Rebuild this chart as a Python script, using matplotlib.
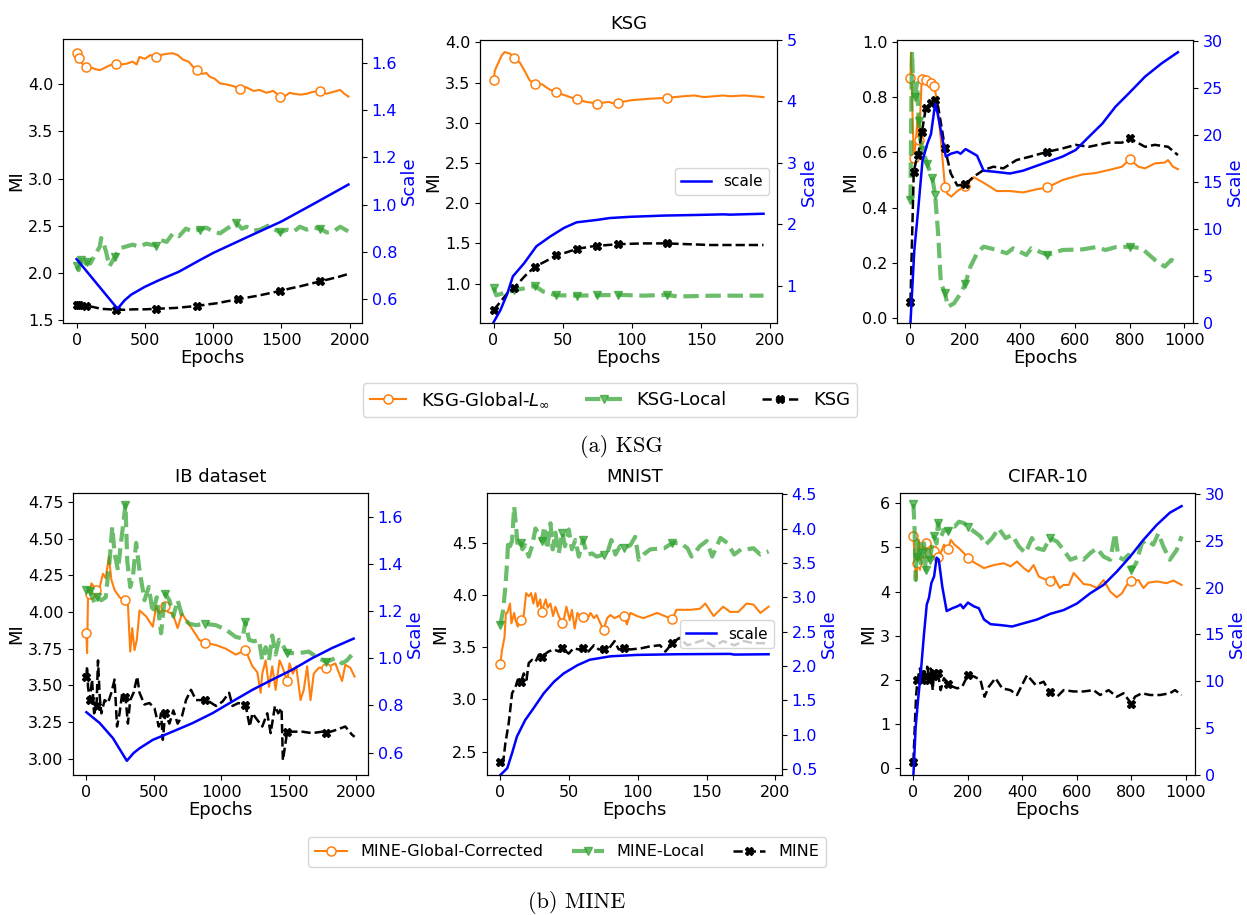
import matplotlib
matplotlib.use("Agg")
import matplotlib.pyplot as plt
from matplotlib.lines import Line2D
from matplotlib.ticker import MultipleLocator

# ---------------- KSG, IB dataset ----------------
ksg_ib_glob_ep = [0, 10, 20, 40, 70, 100, 140, 170, 200, 240, 290, 330, 370, 410, 440, 460, 500, 540, 580, 610,
                  650, 700, 740, 780, 820, 850, 880, 920, 950, 975, 1010, 1050, 1090, 1150, 1195, 1240, 1295,
                  1340, 1390, 1440, 1490, 1530, 1560, 1590, 1640, 1685, 1730, 1785, 1830, 1880, 1930, 1960, 1990]
ksg_ib_glob = [4.33, 4.30, 4.28, 4.22, 4.18, 4.18, 4.16, 4.15, 4.17, 4.20, 4.22, 4.21, 4.22, 4.24, 4.21, 4.29,
               4.27, 4.31, 4.29, 4.31, 4.32, 4.33, 4.31, 4.26, 4.24, 4.19, 4.15, 4.11, 4.12, 4.08, 4.06, 4.01,
               4.00, 3.98, 3.95, 3.97, 3.93, 3.94, 3.91, 3.93, 3.87, 3.88, 3.91, 3.90, 3.89, 3.90, 3.92, 3.93,
               3.90, 3.92, 3.94, 3.90, 3.87]
ksg_ib_local_ep = [0, 15, 30, 50, 75, 100, 130, 170, 180, 200, 215, 240, 280, 315, 360, 410, 460, 510, 580, 610,
                   660, 705, 750, 800, 850, 900, 950, 1000, 1050, 1100, 1170, 1210, 1245, 1300, 1345, 1400, 1440,
                   1490, 1540, 1590, 1635, 1685, 1730, 1785, 1830, 1880, 1930, 1990]
ksg_ib_local = [2.07, 2.03, 2.14, 2.08, 2.12, 2.10, 2.18, 2.28, 2.37, 2.30, 2.23, 2.07, 2.17, 2.26, 2.28, 2.30,
                2.28, 2.31, 2.29, 2.35, 2.33, 2.42, 2.39, 2.47, 2.44, 2.46, 2.48, 2.44, 2.42, 2.47, 2.53, 2.47,
                2.49, 2.45, 2.46, 2.50, 2.47, 2.43, 2.46, 2.44, 2.49, 2.46, 2.48, 2.47, 2.43, 2.44, 2.49, 2.44]
ksg_ib_base_ep = [0, 20, 40, 70, 120, 180, 240, 290, 350, 420, 500, 580, 650, 730, 800, 880, 950, 1030, 1100,
                  1180, 1250, 1330, 1410, 1490, 1560, 1640, 1710, 1780, 1850, 1920, 1990]
ksg_ib_base = [1.66, 1.66, 1.66, 1.655, 1.64, 1.62, 1.615, 1.61, 1.61, 1.615, 1.615, 1.62, 1.625, 1.63, 1.64,
               1.65, 1.665, 1.68, 1.70, 1.72, 1.74, 1.76, 1.785, 1.81, 1.835, 1.86, 1.885, 1.91, 1.935, 1.96, 1.99]
ksg_ib_scale_ep = [0, 100, 200, 300, 350, 400, 500, 600, 750, 900, 1000, 1250, 1500, 1750, 1990]
ksg_ib_scale = [0.77, 0.70, 0.63, 0.56, 0.595, 0.62, 0.653, 0.68, 0.717, 0.765, 0.796, 0.863, 0.929, 1.008, 1.085]

# ---------------- KSG, MNIST ----------------
ksg_mnist_glob_ep = [0, 1, 3, 6, 8, 12, 15, 19, 23, 26, 30, 35, 40, 45, 52, 60, 67, 75, 83, 87, 90, 99, 113, 125,
                     137, 145, 152, 166, 171, 181, 195]
ksg_mnist_glob = [3.53, 3.65, 3.73, 3.84, 3.88, 3.86, 3.80, 3.75, 3.63, 3.53, 3.48, 3.48, 3.42, 3.38, 3.34, 3.29,
                  3.26, 3.24, 3.26, 3.24, 3.25, 3.28, 3.30, 3.31, 3.33, 3.34, 3.32, 3.34, 3.33, 3.34, 3.32]
ksg_mnist_local_ep = [0, 2, 7, 15, 22, 30, 36, 45, 60, 75, 90, 108, 125, 133, 160, 195]
ksg_mnist_local = [0.95, 0.855, 0.88, 0.92, 0.94, 0.97, 0.90, 0.855, 0.85, 0.855, 0.86, 0.85, 0.86, 0.84, 0.85, 0.85]
ksg_mnist_base_ep = [0, 2, 10, 15, 23, 30, 39, 45, 53, 60, 70, 75, 90, 108, 125, 157, 195]
ksg_mnist_base = [0.67, 0.71, 0.88, 0.95, 1.10, 1.21, 1.29, 1.35, 1.39, 1.43, 1.46, 1.47, 1.49, 1.50, 1.50, 1.48, 1.48]
ksg_mnist_scale_ep = [0, 5, 10, 14, 22, 31, 41, 51, 60, 75, 84, 99, 123, 147, 166, 171, 195]
ksg_mnist_scale = [0.40, 0.60, 0.87, 1.15, 1.36, 1.64, 1.80, 1.94, 2.03, 2.07, 2.10, 2.12, 2.14, 2.15, 2.16, 2.155, 2.17]

# ---------------- KSG, CIFAR-10 ----------------
ksg_cifar_glob_ep = [0, 2, 6, 12, 20, 26, 32, 41, 58, 75, 87, 96, 111, 126, 135, 149, 171, 200, 231, 267, 315, 363,
                     411, 459, 500, 555, 627, 675, 724, 772, 800, 832, 856, 892, 928, 940, 958, 976]
ksg_cifar_glob = [0.867, 0.96, 0.79, 0.58, 0.64, 0.73, 0.645, 0.865, 0.86, 0.85, 0.84, 0.79, 0.645, 0.476, 0.45,
                  0.44, 0.46, 0.478, 0.51, 0.49, 0.46, 0.46, 0.455, 0.466, 0.473, 0.50, 0.52, 0.525, 0.536, 0.548,
                  0.575, 0.548, 0.542, 0.56, 0.563, 0.572, 0.548, 0.539]
ksg_cifar_local_ep = [0, 4, 6, 11, 15, 24, 30, 36, 44, 62, 80, 90, 101, 111, 126, 137, 159, 183, 200, 219, 243, 267,
                      315, 351, 375, 423, 441, 500, 555, 627, 675, 712, 748, 800, 844, 892, 928, 952, 982]
ksg_cifar_local = [0.428, 0.85, 0.964, 0.79, 0.80, 0.85, 0.712, 0.645, 0.61, 0.556, 0.506, 0.446, 0.307, 0.128, 0.09,
                   0.042, 0.054, 0.09, 0.125, 0.187, 0.235, 0.259, 0.247, 0.235, 0.253, 0.229, 0.253, 0.229, 0.247,
                   0.249, 0.257, 0.247, 0.257, 0.259, 0.253, 0.211, 0.187, 0.211, 0.199]
ksg_cifar_base_ep = [0, 8, 12, 24, 28, 42, 56, 75, 88, 101, 117, 126, 147, 171, 200, 231, 267, 303, 339, 387, 435,
                     500, 555, 603, 651, 724, 772, 800, 832, 856, 892, 940, 976]
ksg_cifar_base = [0.06, 0.37, 0.53, 0.584, 0.59, 0.675, 0.759, 0.777, 0.789, 0.765, 0.67, 0.614, 0.524, 0.48, 0.485,
                  0.512, 0.536, 0.548, 0.542, 0.572, 0.584, 0.602, 0.614, 0.627, 0.62, 0.635, 0.635, 0.65, 0.633,
                  0.62, 0.627, 0.62, 0.59]
ksg_cifar_scale_ep = [0, 14, 29, 44, 62, 75, 90, 99, 129, 147, 171, 183, 201, 219, 243, 267, 303, 363, 411, 483, 555,
                      603, 651, 700, 748, 796, 856, 916, 976]
ksg_cifar_scale = [0.0, 7.7, 12.3, 17.3, 19.1, 20.1, 23.3, 22.3, 17.7, 18.0, 18.2, 18.0, 18.5, 18.2, 17.8, 16.2, 16.1,
                   15.9, 16.2, 16.95, 17.7, 18.4, 19.8, 21.2, 23.0, 24.4, 26.2, 27.6, 28.8]

# ---------------- MINE, IB dataset ----------------
mine_ib_glob_ep = [0, 5, 12, 25, 37, 74, 99, 123, 143, 167, 185, 209, 246, 290, 308, 325, 340, 357, 374, 394, 443,
                   493, 517, 542, 585, 603, 640, 677, 709, 751, 788, 837, 880, 961, 1034, 1108, 1158, 1180, 1232,
                   1268, 1293, 1305, 1330, 1355, 1379, 1404, 1433, 1453, 1490, 1507, 1532, 1557, 1589, 1613, 1638,
                   1663, 1687, 1724, 1780, 1847, 1897, 1921, 1958, 1990]
mine_ib_glob = [3.855, 3.72, 4.115, 4.12, 4.195, 4.15, 4.17, 4.26, 4.23, 4.375, 4.22, 4.15, 4.10, 4.08, 4.05, 3.73,
                3.89, 3.74, 3.81, 4.01, 3.97, 3.90, 4.04, 3.99, 4.04, 4.00, 3.99, 3.89, 3.99, 3.93, 3.88, 3.81, 3.79,
                3.775, 3.75, 3.71, 3.73, 3.74, 3.63, 3.59, 3.45, 3.58, 3.67, 3.49, 3.63, 3.47, 3.67, 3.63, 3.53, 3.65,
                3.58, 3.63, 3.40, 3.47, 3.63, 3.40, 3.58, 3.62, 3.62, 3.65, 3.53, 3.64, 3.62, 3.56]
mine_ib_local_ep = [0, 25, 62, 75, 111, 143, 172, 192, 209, 234, 259, 290, 303, 325, 345, 369, 394, 431, 463, 493,
                    522, 554, 585, 616, 645, 677, 714, 764, 813, 880, 961, 1034, 1108, 1158, 1180, 1207, 1244, 1281,
                    1305, 1330, 1355, 1379, 1404, 1429, 1453, 1490, 1515, 1576, 1650, 1724, 1780, 1847, 1897, 1933,
                    1990]
mine_ib_local = [4.15, 4.14, 4.06, 4.10, 4.08, 4.10, 4.35, 4.58, 4.40, 4.285, 4.49, 4.73, 4.35, 4.17, 4.24, 4.47,
                 4.285, 4.08, 4.17, 3.99, 4.10, 3.855, 4.125, 4.08, 3.97, 4.08, 3.96, 3.92, 3.91, 3.92, 3.91, 3.88,
                 3.83, 3.82, 3.93, 3.81, 3.80, 3.81, 3.67, 3.76, 3.67, 3.84, 3.71, 3.81, 3.78, 3.72, 3.72, 3.72, 3.73,
                 3.685, 3.66, 3.685, 3.65, 3.67, 3.73]
mine_ib_base_ep = [0, 5, 12, 25, 42, 57, 75, 86, 99, 111, 135, 160, 185, 209, 227, 246, 266, 290, 308, 325, 350, 377,
                   394, 431, 468, 505, 537, 554, 567, 585, 616, 645, 677, 709, 739, 776, 813, 880, 911, 961, 1010,
                   1059, 1084, 1128, 1180, 1212, 1232, 1268, 1305, 1342, 1367, 1399, 1423, 1448, 1458, 1490, 1527,
                   1601, 1675, 1749, 1780, 1847, 1921, 1970, 1990]
mine_ib_base = [3.56, 3.63, 3.49, 3.40, 3.54, 3.31, 3.36, 3.67, 3.42, 3.31, 3.40, 3.38, 3.45, 3.54, 3.22, 3.31, 3.45,
                3.42, 3.24, 3.40, 3.45, 3.56, 3.45, 3.37, 3.38, 3.345, 3.22, 3.31, 3.13, 3.31, 3.24, 3.33, 3.24, 3.29,
                3.40, 3.47, 3.40, 3.40, 3.39, 3.36, 3.39, 3.45, 3.36, 3.38, 3.37, 3.22, 3.31, 3.265, 3.22, 3.31,
                3.175, 3.36, 3.31, 3.345, 2.99, 3.185, 3.185, 3.185, 3.175, 3.185, 3.175, 3.195, 3.22, 3.165, 3.15]
mine_ib_scale_ep = [0, 99, 197, 300, 350, 394, 493, 640, 788, 936, 1084, 1232, 1379, 1527, 1675, 1823, 1983]
mine_ib_scale = [0.771, 0.725, 0.661, 0.565, 0.598, 0.618, 0.654, 0.689, 0.725, 0.767, 0.817, 0.866, 0.909, 0.951,
                 1.0, 1.043, 1.083]

# ---------------- MINE, MNIST ----------------
mine_mnist_glob_ep = [0, 1, 3, 4, 5, 7, 8, 10, 11, 12.6, 15, 17, 18.7, 20.6, 22.3, 24, 25.5, 27, 29, 30, 33, 34.4,
                      36.4, 38.3, 40, 42.4, 45, 46, 48, 50.4, 52, 54, 56, 58, 60, 63, 65.5, 68, 70, 72.7, 75, 77.6,
                      80, 83, 86, 90, 92, 94.5, 99.4, 104, 114, 125, 128, 138, 145, 149, 155, 162, 167, 173, 179,
                      184, 189, 195]
mine_mnist_glob = [3.34, 3.46, 3.60, 3.83, 3.83, 3.92, 3.73, 3.83, 3.76, 3.70, 3.76, 3.81, 4.02, 3.99, 4.02, 3.92,
                   4.02, 3.89, 3.96, 3.84, 3.96, 3.88, 3.92, 3.80, 3.89, 3.80, 3.73, 3.76, 3.89, 3.76, 3.86, 3.68,
                   3.83, 3.80, 3.79, 3.76, 3.83, 3.78, 3.81, 3.73, 3.67, 3.78, 3.81, 3.78, 3.80, 3.80, 3.72, 3.83,
                   3.80, 3.78, 3.83, 3.77, 3.86, 3.86, 3.87, 3.92, 3.80, 3.89, 3.84, 3.84, 3.92, 3.91, 3.83, 3.89]
mine_mnist_local_ep = [0, 2, 3.6, 5, 5.6, 7, 8.5, 10, 11.4, 12.6, 15, 16, 18, 20.6, 23, 25.5, 28, 30, 32, 34, 36.4,
                       38, 40, 42.4, 45, 47, 49.7, 52, 54.5, 57, 60, 63, 66.7, 70, 75, 77.6, 80.7, 83.6, 87, 90, 94.5,
                       98, 100.6, 104, 109, 119, 125, 131, 136, 139, 145, 150, 154, 160, 165, 170, 175, 179, 184, 189,
                       195]
mine_mnist_local = [3.716, 3.86, 4.08, 4.34, 4.53, 4.47, 4.52, 4.85, 4.66, 4.45, 4.50, 4.44, 4.48, 4.37, 4.47, 4.64,
                    4.58, 4.52, 4.66, 4.44, 4.69, 4.44, 4.60, 4.40, 4.60, 4.47, 4.63, 4.44, 4.53, 4.37, 4.53, 4.39,
                    4.40, 4.37, 4.39, 4.40, 4.53, 4.39, 4.47, 4.45, 4.48, 4.56, 4.34, 4.39, 4.44, 4.45, 4.50, 4.50,
                    4.45, 4.37, 4.47, 4.52, 4.37, 4.55, 4.50, 4.39, 4.44, 4.44, 4.45, 4.39, 4.42]
mine_mnist_base_ep = [0, 2, 3.6, 6, 8.5, 11, 12.6, 15, 17, 19, 20.6, 23, 25.5, 28, 30, 35, 39, 42.4, 45, 49.7, 53,
                      57, 60, 64, 68, 71.5, 75, 79, 83, 86, 90, 94.5, 102, 109, 116, 120, 125, 130, 136, 143, 148,
                      155, 162, 170, 177, 184, 195]
mine_mnist_base = [2.40, 2.40, 2.58, 2.77, 3.06, 3.12, 3.19, 3.17, 3.25, 3.19, 3.35, 3.38, 3.36, 3.43, 3.41, 3.46,
                   3.48, 3.46, 3.49, 3.44, 3.49, 3.48, 3.49, 3.46, 3.52, 3.48, 3.48, 3.49, 3.56, 3.48, 3.49, 3.48,
                   3.49, 3.51, 3.52, 3.46, 3.54, 3.59, 3.52, 3.55, 3.57, 3.51, 3.56, 3.52, 3.56, 3.54, 3.54]
mine_mnist_scale_ep = [0, 5, 8.5, 12, 18, 24, 31.5, 39, 46, 56, 65, 80, 99, 128, 167, 170, 195]
mine_mnist_scale = [0.41, 0.51, 0.73, 0.97, 1.21, 1.38, 1.60, 1.77, 1.89, 2.01, 2.09, 2.14, 2.16, 2.17, 2.175, 2.165,
                    2.17]

# ---------------- MINE, CIFAR-10 ----------------
mine_cifar_glob_ep = [0, 5, 10, 15, 20, 24, 30, 34, 41, 45, 57, 63, 75, 82, 90, 100, 112, 128, 137, 151, 167, 185,
                      200, 228, 259, 295, 332, 356, 380, 405, 423, 441, 460, 500, 515, 537, 551, 570, 588, 606, 624,
                      649, 673, 698, 722, 746, 765, 783, 800, 826, 844, 862, 893, 929, 954, 984]
mine_cifar_glob = [5.26, 4.72, 4.26, 4.64, 5.17, 4.49, 4.87, 5.02, 4.79, 5.09, 4.87, 5.02, 4.91, 5.02, 4.79, 4.87,
                   5.06, 4.97, 5.17, 5.06, 4.98, 4.87, 4.75, 4.64, 4.53, 4.60, 4.64, 4.57, 4.68, 4.53, 4.45, 4.60,
                   4.34, 4.23, 4.34, 4.08, 4.15, 4.15, 4.42, 4.30, 4.17, 4.15, 4.08, 4.26, 4.00, 3.87, 3.96, 4.15,
                   4.24, 4.26, 4.08, 4.20, 4.23, 4.19, 4.25, 4.15]
mine_cifar_local_ep = [0, 4, 8.5, 12, 15, 22, 27, 30, 39, 45, 51, 60, 68, 75, 85, 90, 102, 112, 128, 137, 151, 167,
                       185, 200, 222, 246, 265, 289, 313, 338, 362, 387, 411, 435, 454, 478, 500, 527, 551, 576, 606,
                       624, 649, 673, 698, 722, 740, 752, 771, 789, 800, 817, 838, 856, 880, 899, 917, 941, 966, 984]
mine_cifar_local = [5.98, 5.47, 4.26, 5.17, 4.79, 5.09, 4.64, 4.87, 5.09, 4.49, 4.94, 4.72, 5.02, 5.25, 5.09, 5.55,
                    5.25, 5.40, 5.36, 5.51, 5.47, 5.58, 5.55, 5.47, 5.36, 5.25, 5.06, 5.21, 5.43, 5.21, 5.28, 5.02,
                    4.87, 5.21, 4.98, 4.94, 5.21, 5.13, 4.94, 4.72, 4.79, 4.72, 4.87, 4.98, 4.79, 4.72, 5.32, 4.79,
                    4.72, 4.83, 4.49, 4.64, 5.09, 5.17, 5.06, 5.32, 5.02, 4.72, 4.94, 5.25]
mine_cifar_base_ep = [0, 5, 10, 15, 24, 30, 39, 45, 51, 57, 63, 71, 75, 83, 90, 100, 112, 128, 143, 161, 179, 200,
                      222, 246, 261, 277, 301, 326, 356, 380, 417, 448, 478, 500, 527, 551, 588, 624, 661, 685, 716,
                      746, 771, 800, 813, 838, 868, 905, 941, 960, 984]
mine_cifar_base = [0.15, 0.94, 1.66, 2.0, 2.26, 2.0, 2.26, 2.08, 2.30, 2.0, 2.26, 1.77, 2.15, 2.0, 2.15, 1.77, 2.04,
                   1.92, 1.85, 1.81, 1.85, 2.11, 2.08, 2.0, 1.62, 1.85, 2.04, 1.81, 1.77, 1.66, 2.11, 1.89, 1.96,
                   1.72, 1.62, 1.77, 1.74, 1.74, 1.77, 1.66, 1.77, 1.62, 1.70, 1.46, 1.62, 1.70, 1.66, 1.66, 1.70,
                   1.77, 1.66]
mine_cifar_scale_ep = [0, 8.5, 17, 27, 39, 49, 57, 66, 76, 85, 93, 106, 122, 143, 161, 173, 183, 200, 222, 240, 259,
                       283, 320, 362, 405, 454, 502, 551, 600, 649, 698, 746, 795, 844, 893, 941, 984]
mine_cifar_scale = [0, 5.2, 8.0, 10.9, 15.1, 18.2, 18.9, 20.5, 21.2, 23.2, 23.0, 20.1, 17.5, 17.8, 18.0, 18.2, 17.8,
                    18.4, 18.0, 17.8, 16.6, 16.1, 16.0, 15.85, 16.2, 16.6, 17.2, 17.6, 18.3, 19.4, 20.3, 21.7, 23.3,
                    25.1, 26.7, 28.0, 28.7]

# epochs at which the estimator curves carry a marker
ib_marks = [0, 25, 75, 290, 585, 880, 1180, 1490, 1780]
mnist_marks = [0, 15, 30, 45, 60, 75, 90, 125]
cifar_marks = [0, 15, 30, 45, 60, 75, 90, 128, 200, 500, 800]

ksg_labels = ["KSG-Global-$L_\\infty$", "KSG-Local", "KSG"]
mine_labels = ["MINE-Global-Corrected", "MINE-Local", "MINE"]

ORANGE = "#ff7f0e"
GREEN = "#2ca02c"
BLUE = "#0000ff"

glob_style = dict(color=ORANGE, lw=1.5, marker="o", ms=6.5, mfc="white", mec=ORANGE, mew=1.1)
local_style = dict(color=GREEN, alpha=0.7, lw=3, ls="--", marker="v", ms=6)
base_style = dict(color="black", lw=1.8, ls="--", marker="X", ms=6)

fig = plt.figure(figsize=(12.47, 9.15), dpi=100)
W, H = 1247.0, 915.0


def rect(left, right, top, bottom):
    return [left / W, 1 - bottom / H, (right - left) / W, (bottom - top) / H]


def mark_indices(epochs, marks):
    return sorted({min(range(len(epochs)), key=lambda i: abs(epochs[i] - m)) for m in marks})


def panel(box, glob, local, base, scale, marks, mi_lim, mi_step, sc_lim, sc_step, title=None,
          scale_legend=False):
    ax = fig.add_axes(box)
    for (ep, val), style in ((glob, glob_style), (local, local_style), (base, base_style)):
        ax.plot(ep, val, markevery=mark_indices(ep, marks), **style)
    ax.set_ylim(*mi_lim)
    ax.yaxis.set_major_locator(MultipleLocator(mi_step))
    ax.set_xlabel("Epochs", fontsize=13, labelpad=1)
    ax.set_ylabel("MI", fontsize=13, labelpad=2)
    ax.tick_params(labelsize=11.5)
    if title:
        ax.set_title(title, fontsize=13, pad=8)
    ax2 = ax.twinx()
    ax2.plot(scale[0], scale[1], color=BLUE, lw=1.8, label="scale")
    ax2.set_ylim(*sc_lim)
    ax2.yaxis.set_major_locator(MultipleLocator(sc_step))
    ax2.tick_params(axis="y", labelsize=11.5, labelcolor=BLUE)
    ax2.set_ylabel("Scale", color=BLUE, fontsize=13, labelpad=2)
    if scale_legend:
        ax2.legend(loc="center right", fontsize=11)
    return ax


panel(rect(63, 362, 39, 323), (ksg_ib_glob_ep, ksg_ib_glob), (ksg_ib_local_ep, ksg_ib_local),
      (ksg_ib_base_ep, ksg_ib_base), (ksg_ib_scale_ep, ksg_ib_scale), ib_marks,
      (1.47, 4.48), 0.5, (0.5, 1.7), 0.2)
panel(rect(480, 777, 40, 323), (ksg_mnist_glob_ep, ksg_mnist_glob), (ksg_mnist_local_ep, ksg_mnist_local),
      (ksg_mnist_base_ep, ksg_mnist_base), (ksg_mnist_scale_ep, ksg_mnist_scale), mnist_marks,
      (0.51, 4.03), 0.5, (0.39, 5.0), 1, title="KSG", scale_legend=True)
panel(rect(897, 1193, 40, 323), (ksg_cifar_glob_ep, ksg_cifar_glob), (ksg_cifar_local_ep, ksg_cifar_local),
      (ksg_cifar_base_ep, ksg_cifar_base), (ksg_cifar_scale_ep, ksg_cifar_scale), cifar_marks,
      (-0.017, 1.006), 0.2, (0, 30.1), 5)

panel(rect(73, 368, 493, 775), (mine_ib_glob_ep, mine_ib_glob), (mine_ib_local_ep, mine_ib_local),
      (mine_ib_base_ep, mine_ib_base), (mine_ib_scale_ep, mine_ib_scale), ib_marks,
      (2.89, 4.81), 0.25, (0.505, 1.70), 0.2, title="IB dataset")
panel(rect(487, 782, 493, 775), (mine_mnist_glob_ep, mine_mnist_glob), (mine_mnist_local_ep, mine_mnist_local),
      (mine_mnist_base_ep, mine_mnist_base), (mine_mnist_scale_ep, mine_mnist_scale), mnist_marks,
      (2.276, 4.98), 0.5, (0.41, 4.52), 0.5, title="MNIST", scale_legend=True)
panel(rect(900, 1195, 493, 775), (mine_cifar_glob_ep, mine_cifar_glob), (mine_cifar_local_ep, mine_cifar_local),
      (mine_cifar_base_ep, mine_cifar_base), (mine_cifar_scale_ep, mine_cifar_scale), cifar_marks,
      (-0.15, 6.23), 1, (0, 30.1), 5, title="CIFAR-10")

proxies = [Line2D([], [], **glob_style), Line2D([], [], **local_style), Line2D([], [], **base_style)]
fig.legend(proxies, ksg_labels, loc="center", bbox_to_anchor=(610 / W, 1 - 400 / H), ncol=3, fontsize=13)
fig.legend(proxies, mine_labels, loc="center", bbox_to_anchor=(567 / W, 1 - 852 / H), ncol=3, fontsize=11.5,
           handlelength=2.0, columnspacing=1.8, borderpad=0.45)

fig.text(621 / W, 1 - 447 / H, "(a) KSG", fontfamily="cmr10", fontsize=16, ha="center", va="center")
fig.text(577 / W, 1 - 903 / H, "(b) MINE", fontfamily="cmr10", fontsize=16, ha="center", va="center")

fig.savefig("out.png", dpi=100)
